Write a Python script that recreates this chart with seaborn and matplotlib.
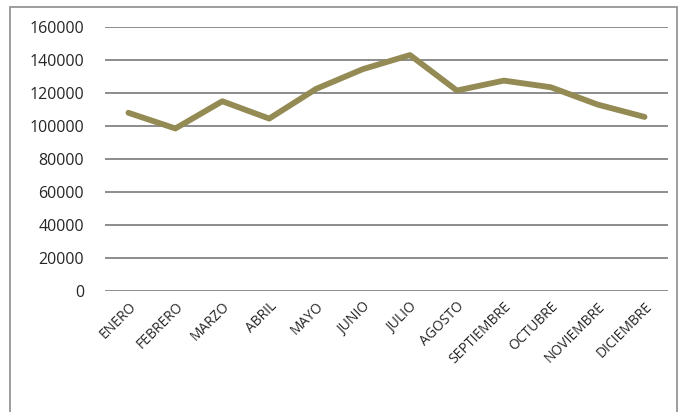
import pandas as pd
import matplotlib
matplotlib.use("Agg")
import matplotlib.pyplot as plt
from matplotlib.patches import Rectangle
import seaborn as sns

meses = ["ENERO", "FEBRERO", "MARZO", "ABRIL", "MAYO", "JUNIO", "JULIO",
         "AGOSTO", "SEPTIEMBRE", "OCTUBRE", "NOVIEMBRE", "DICIEMBRE"]
valores = [108000, 98500, 115000, 104500, 122500, 134500, 143000,
           121500, 127500, 123500, 113000, 105500]
y_ticks = [0, 20000, 40000, 60000, 80000, 100000, 120000, 140000, 160000]

df = pd.DataFrame({"mes": meses, "valor": valores})

sns.set_style("white")
plt.rcParams["font.family"] = ["Open Sans", "DejaVu Sans"]

fig = plt.figure(figsize=(6.8, 4.12), dpi=100)
ax = fig.add_axes([105 / 680, 1 - 291 / 412, 563 / 680, 264 / 412])

sns.lineplot(data=df, x="mes", y="valor", sort=False, ax=ax,
             color="#948A54", linewidth=4.2, solid_capstyle="round",
             solid_joinstyle="round", zorder=3)

ax.set_xlim(-0.5, len(meses) - 0.5)
ax.set_ylim(0, 160000)
ax.set_yticks(y_ticks)
ax.set_yticklabels([str(v) for v in y_ticks], fontsize=11.5)
ax.yaxis.grid(True, color="#8c8c8c", linewidth=1.4)
ax.set_axisbelow(True)
for s in ax.spines.values():
    s.set_visible(False)
ax.tick_params(axis="y", length=0, pad=15)
ax.tick_params(axis="x", length=0, pad=6)
ax.set_xticks(range(len(meses)))
ax.set_xticklabels(meses, rotation=45, ha="right", rotation_mode="anchor",
                   fontsize=10)
ax.set_xlabel("")
ax.set_ylabel("")

# marco del gráfico
fig.patches.append(Rectangle((10 / 680, -0.1), 667 / 680, 1.1 - 7 / 412,
                             transform=fig.transFigure, fill=False,
                             edgecolor="#8c8c8c", linewidth=1.2))

fig.savefig("out.png", dpi=100)
